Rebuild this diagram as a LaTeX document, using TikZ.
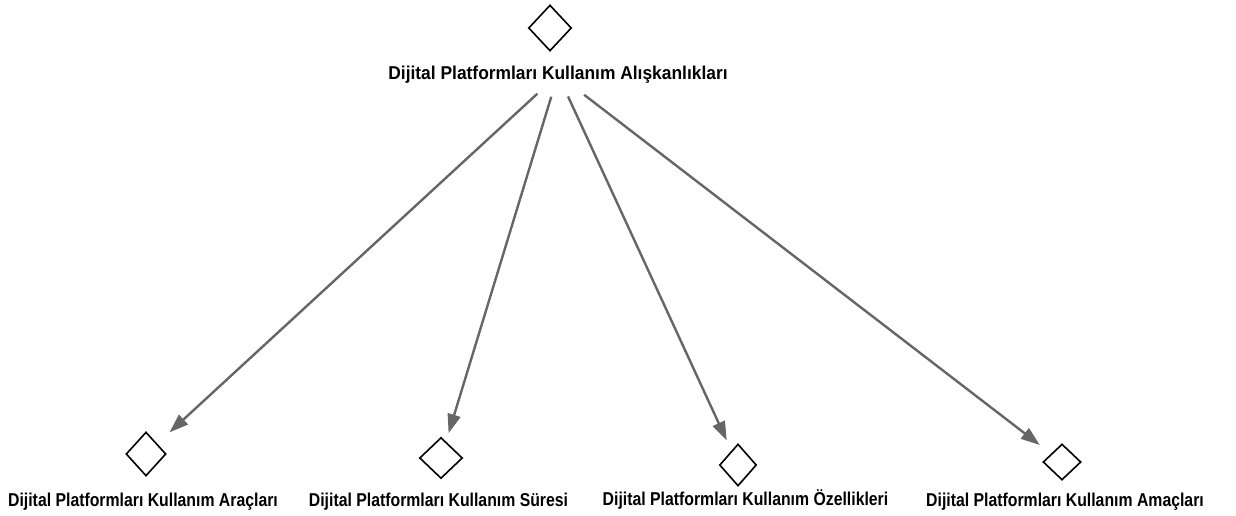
\documentclass[tikz,border=0pt]{standalone}
\usepackage{fontspec}
\setmainfont{Liberation Sans}
\newfontfamily\ustfont{Liberation Sans}[FakeStretch = 0.935]
\newfontfamily\altfont{Liberation Sans}[FakeStretch = 0.85]
\usetikzlibrary{shapes.geometric, arrows.meta}

\tikzset{
	kutu/.style = {diamond, draw, line width = 1.6pt, inner sep = 0pt, minimum width = 40pt, minimum height = 43pt},
	etiket/.style = {anchor = base, inner sep = 0pt, font = \altfont\bfseries\fontsize{18.6}{21}\selectfont},
	ok/.style = {draw = black!60, line width = 2.4pt, -{Triangle[length = 19pt, width = 13pt]}}
}

\begin{document}
\begin{tikzpicture}[x = 1pt, y = -1pt]
		\useasboundingbox (0, 0) rectangle (1236, 515);
		\node[kutu, minimum width = 43pt, minimum height = 46pt] (ana) at (550, 28) {};
		\node[etiket, font = \ustfont\bfseries\fontsize{18.6}{21}\selectfont] (anaetiket) at (558, 79.5) {Dijital Platformları Kullanım Alışkanlıkları};
		% alt düğümler
		\foreach \ad/\dx/\dy/\w/\h/\lx/\lb/\metin in {arac/146/454/40/44/143/506/Araçları, sure/441/458/43/41/438.5/506/Süresi, ozellik/738/465/37/42/745.5/505/Özellikleri, amac/1062/462/38/36/1065/506/Amaçları}
		{
			\node[kutu, minimum width = \w pt, minimum height = \h pt] (\ad) at (\dx, \dy) {};
			\node[etiket] (\ad etiket) at (\lx, \lb) {Dijital Platformları Kullanım \metin};
		}
		\foreach \ad/\bas/\son in {arac/28/32, sure/23/26, ozellik/24/27, amac/33/28}
			\draw[ok, shorten < = \bas pt, shorten > = \son pt] (anaetiket.center) -- (\ad.center);
	\end{tikzpicture}
\end{document}
